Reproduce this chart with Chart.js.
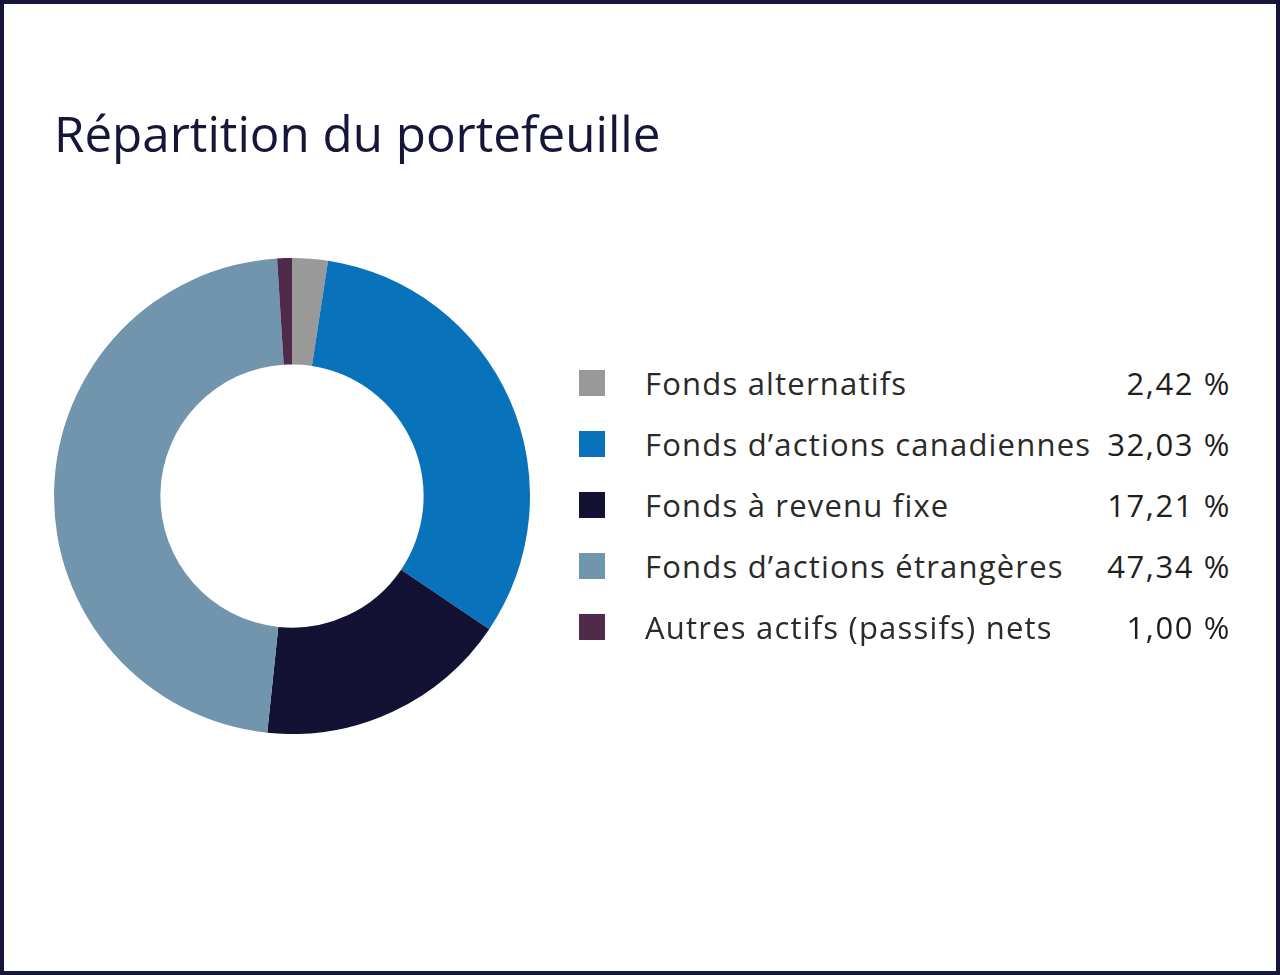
<!DOCTYPE html>
<html lang="fr">
<head>
<meta charset="utf-8">
<script src="https://cdn.jsdelivr.net/npm/chart.js@4"></script>
<style>
  html, body { margin:0; padding:0; background:#fff; }
  #frame { position:absolute; left:0; top:0; width:1280px; height:975px; box-sizing:border-box; border:4px solid #16163a; }
  #title { position:absolute; left:54px; top:99px; margin:0; font-family:"Open Sans", sans-serif; font-weight:400; font-size:49.3px; line-height:67px; color:#16163a; white-space:nowrap; }
  #chartWrap { position:absolute; left:54px; top:258px; width:476px; height:476px; }
  #legend { position:absolute; left:579px; top:354px; width:652px; font-family:"Open Sans", sans-serif; }
  .row { position:relative; height:61px; }
  .sw { position:absolute; left:0; top:16px; width:26px; height:26px; }
  .lab { position:absolute; left:66px; top:8px; font-size:31px; letter-spacing:1.2px; line-height:42px; color:#2a2a2a; white-space:nowrap; }
  .val { position:absolute; right:0; top:8px; font-size:31px; letter-spacing:1.6px; line-height:42px; color:#1e1e1e; white-space:nowrap; }
</style>
</head>
<body>
<div id="title">Répartition du portefeuille</div>
<div id="chartWrap"><canvas id="c" width="476" height="476"></canvas></div>
<div id="legend"></div>
<div id="frame"></div>
<script>
const categories = ["Fonds alternatifs", "Fonds d’actions canadiennes", "Fonds à revenu fixe", "Fonds d’actions étrangères", "Autres actifs (passifs) nets"];
const values = [2.42, 32.03, 17.21, 47.34, 1.00];
const colors = ["#999999", "#0873bb", "#131134", "#7095ad", "#4f2a4b"];

function fmt(v) { return v.toFixed(2).replace('.', ',') + ' %'; }

const legend = document.getElementById('legend');
categories.forEach((c, i) => {
  const row = document.createElement('div');
  row.className = 'row';
  row.innerHTML = '<div class="sw" style="background:' + colors[i] + '"></div>' +
    '<div class="lab"></div><div class="val"></div>';
  row.querySelector('.lab').textContent = c;
  row.querySelector('.val').textContent = fmt(values[i]);
  legend.appendChild(row);
});

new Chart(document.getElementById('c'), {
  type: 'doughnut',
  data: {
    labels: categories,
    datasets: [{ data: values, backgroundColor: colors, borderWidth: 0, hoverOffset: 0 }]
  },
  options: {
    responsive: false,
    animation: false,
    cutout: '55.3%',
    layout: { padding: 0 },
    plugins: { legend: { display: false }, tooltip: { enabled: false } }
  }
});
</script>
</body>
</html>
